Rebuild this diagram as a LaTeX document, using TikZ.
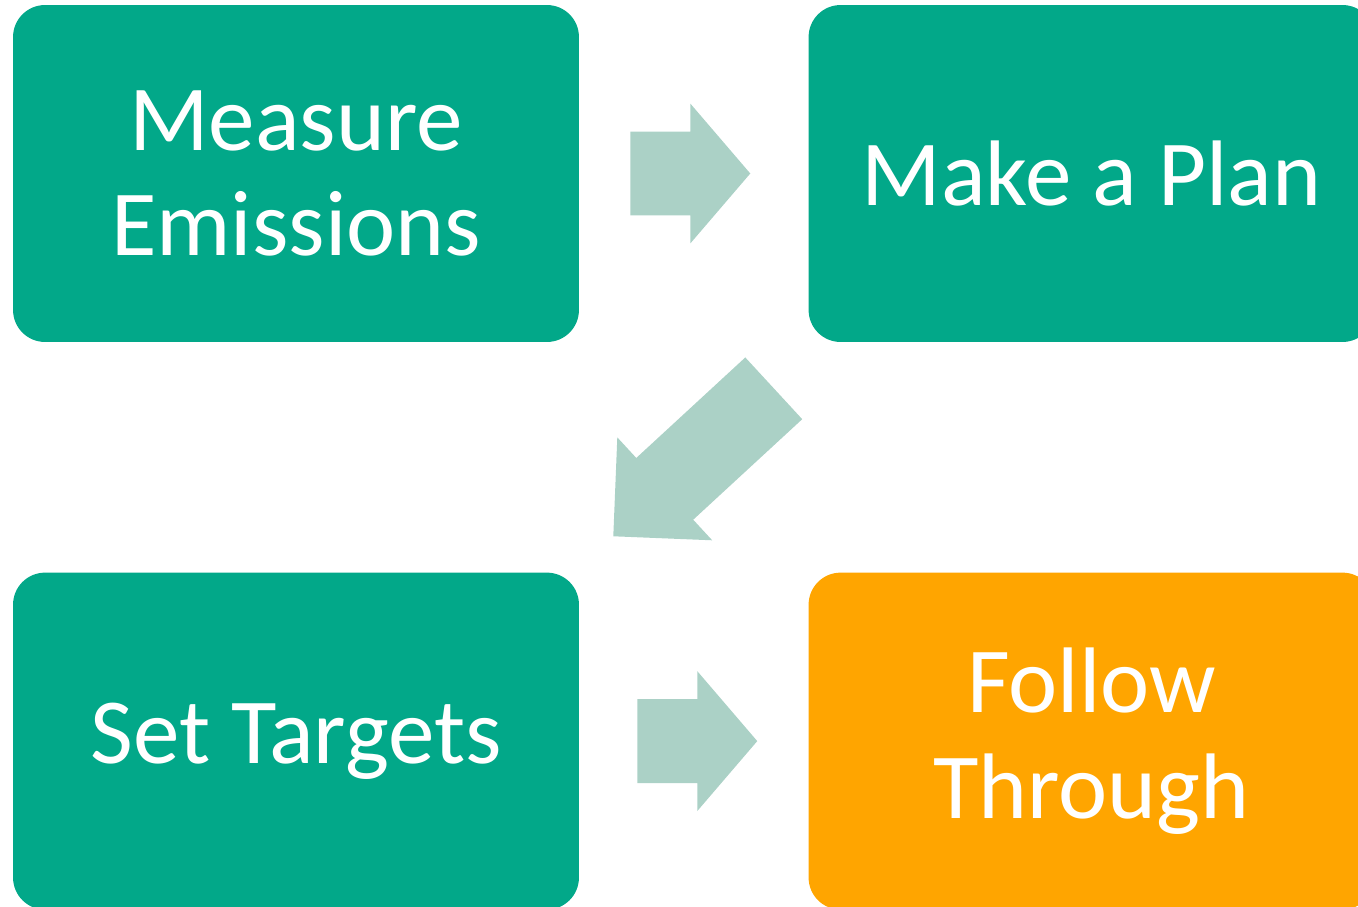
\documentclass[tikz,border=0pt]{standalone}
\usepackage{fontspec}
\setmainfont{Carlito}
\usepackage{tikz}
\usetikzlibrary{calc}
\usetikzlibrary{positioning}

\definecolor{stepgreen}{RGB}{2,168,137}
\definecolor{steporange}{RGB}{255,165,0}
\definecolor{arrowgray}{RGB}{171,209,198}

% 块状箭头: 起点, 终点, 箭头长度, 箭头半宽
\newcommand{\blockarrow}[4]{%
    \fill[arrowgray] ($(#1)!0.84cm!90:(#2)$) -- ($($(#2)!#3!(#1)$)!0.84cm!90:(#2)$)
        -- ($($(#2)!#3!(#1)$)!#4!90:(#2)$) -- (#2)
        -- ($($(#2)!#3!(#1)$)!#4!-90:(#2)$) -- ($($(#2)!#3!(#1)$)!0.84cm!-90:(#2)$)
        -- ($(#1)!0.84cm!-90:(#2)$) -- cycle;%
}

\begin{document}
\begin{tikzpicture}[x=0.02cm,y=-0.02cm,
    stepbox/.style={rectangle,rounded corners=0.64cm,fill=stepgreen,text=white,
        minimum width=11.32cm,minimum height=6.74cm,align=center,
        font={\fontsize{53pt}{60pt}\selectfont}}]
    \useasboundingbox (0,0) rectangle (1358,906);
    \clip (0,0) rectangle (1358,906);

    % 四个步骤框
    \node[stepbox] (measure) at (296,173.5) {Measure\\Emissions};
    \node[stepbox, right=4.58cm of measure] (plan) {Make a Plan};
    \node[stepbox, below=4.6cm of measure] (targets) {Set Targets};
    \node[stepbox, fill=steporange, right=4.58cm of targets] (follow) {Follow\\Through};

    % 箭头端点
    \coordinate (a1s) at ($(measure.east)+(51,0)$);
    \coordinate (a1e) at ($(plan.west)+(-58,0)$);
    \coordinate (a2s) at ($(plan.south west)+(-34.5,46)$);
    \coordinate (a2e) at ($(targets.north east)+(34,-36)$);
    \coordinate (a3s) at ($(targets.east)+(58,0)$);
    \coordinate (a3e) at ($(follow.west)+(-51,0)$);

    % 块状箭头
    \blockarrow{a1s}{a1e}{1.2cm}{1.4cm}
    \blockarrow{a2s}{a2e}{1.4cm}{1.4cm}
    \blockarrow{a3s}{a3e}{1.2cm}{1.4cm}
\end{tikzpicture}
\end{document}
